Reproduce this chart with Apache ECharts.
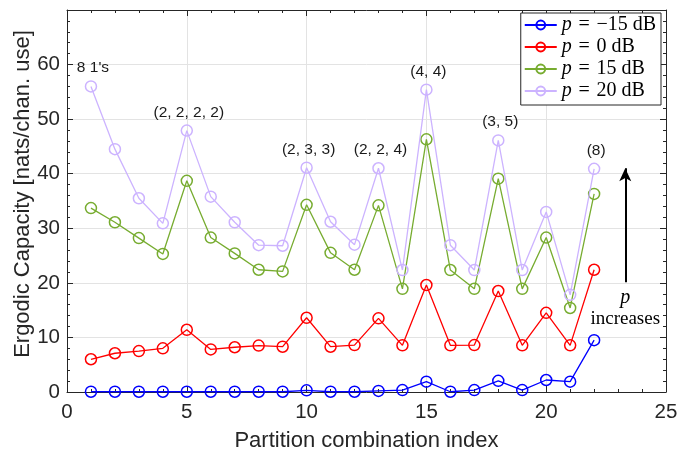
<!DOCTYPE html>
<html>
<head>
<meta charset="utf-8">
<script src="https://cdn.jsdelivr.net/npm/echarts@6/dist/echarts.min.js"></script>
<style>
html, body { margin: 0; padding: 0; background: #fff; }
#chart { width: 688px; height: 452px; }
</style>
</head>
<body>
<div id="chart"></div>
<script>
// partition combination index
var combIndex = [1, 2, 3, 4, 5, 6, 7, 8, 9, 10, 11, 12, 13, 14, 15, 16, 17, 18, 19, 20, 21, 22];

// ergodic capacity per transmit power
var capM15 = [0.05, 0.05, 0.05, 0.05, 0.05, 0.05, 0.05, 0.05, 0.05, 0.3, 0.05, 0.05, 0.2, 0.35, 1.9, 0.05, 0.35, 2.05, 0.35, 2.2, 1.9, 9.5];
var cap0 = [6.0, 7.1, 7.5, 8.0, 11.4, 7.8, 8.2, 8.5, 8.3, 13.6, 8.3, 8.6, 13.5, 8.55, 19.6, 8.55, 8.6, 18.5, 8.55, 14.5, 8.55, 22.4];
var cap15 = [33.7, 31.1, 28.2, 25.3, 38.7, 28.3, 25.4, 22.4, 22.1, 34.3, 25.5, 22.4, 34.2, 18.9, 46.3, 22.35, 18.9, 39.1, 18.9, 28.3, 15.4, 36.3];
var cap20 = [56.0, 44.5, 35.5, 30.9, 47.9, 35.8, 31.1, 26.9, 26.8, 41.1, 31.2, 27.0, 41.0, 22.35, 55.4, 26.9, 22.35, 46.1, 22.35, 33.0, 17.8, 40.9];

var seriesNames = ['p = \u221215 dB', 'p = 0 dB', 'p = 15 dB', 'p = 20 dB'];
var seriesColors = ['#0000ff', '#ff0000', '#77ac30', '#ccb3ff'];

// partition labels shown above the p = 20 dB peaks
var noteIndex = [1, 5, 10, 13, 15, 18, 22];
var noteText = ["8 1's", '(2, 2, 2, 2)', '(2, 3, 3)', '(2, 2, 4)', '(4, 4)', '(3, 5)', '(8)'];

var yTicks = [0, 10, 20, 30, 40, 50, 60];

var axisColor = '#262626';
var sans = 'Liberation Sans';
var serif = 'Liberation Serif';

function pairs(values, withNotes)
{
    return combIndex.map(function (x, i)
    {
        var k = withNotes ? noteIndex.indexOf(x) : -1;
        if (k < 0) {
            return [x, values[i]];
        }
        return {
            value: [x, values[i]],
            label: {
                show: true,
                position: 'top',
                distance: 4,
                offset: [2, 0],
                formatter: noteText[k],
                fontFamily: sans,
                fontSize: 15.5,
                color: '#1a1a1a'
            }
        };
    });
}

function lineSeries(idx, values, withNotes)
{
    var c = seriesColors[idx];
    return {
        name: seriesNames[idx],
        type: 'line',
        data: pairs(values, withNotes),
        symbol: 'circle',
        symbolSize: 11,
        showSymbol: true,
        itemStyle: { color: 'rgba(0,0,0,0)', borderColor: c, borderWidth: 1.5 },
        lineStyle: { color: c, width: 1.3 },
        emphasis: { disabled: true },
        z: 2 + idx
    };
}

var chart = echarts.init(document.getElementById('chart'));

var tickStyle = { show: true, inside: true, length: 6, lineStyle: { color: axisColor, width: 1 } };
var minorStyle = { show: true, splitNumber: 5, length: 3, lineStyle: { color: axisColor, width: 1 } };

var purple = lineSeries(3, cap20, true);
purple.markLine = {
    silent: true,
    animation: false,
    symbol: ['none', 'arrow'],
    symbolSize: [9, 13],
    lineStyle: { color: '#000', width: 2, type: 'solid' },
    label: {
        show: true,
        position: 'start',
        distance: 5,
        formatter: '{i|p}\n{r|increases}',
        rich: {
            i: { fontFamily: serif, fontStyle: 'italic', fontSize: 20, lineHeight: 21, color: '#000', align: 'center' },
            r: { fontFamily: serif, fontSize: 19, lineHeight: 22, color: '#000', align: 'center' }
        }
    },
    data: [[{ coord: [23.3, 20.1] }, { coord: [23.3, 41.0] }]]
};

var option = {
    animation: false,
    grid: { left: 67, right: 22, top: 10, bottom: 60, containLabel: false, outerBoundsMode: 'none' },
    legend: {
        orient: 'vertical',
        right: 27,
        top: 13,
        itemWidth: 32,
        itemHeight: 11,
        itemGap: 2,
        padding: [2, 5, 4, 3],
        borderColor: axisColor,
        borderWidth: 1,
        backgroundColor: '#fff',
        data: seriesNames,
        formatter: function (name)
        {
            return name.replace(/^p = /, '{i|p}\u2004=\u2004');
        },
        textStyle: {
            fontFamily: serif,
            fontSize: 20,
            lineHeight: 20,
            color: '#000',
            rich: {
                i: { fontFamily: serif, fontStyle: 'italic', fontSize: 20, lineHeight: 20, color: '#000' }
            }
        }
    },
    graphic: [{
        type: 'text',
        x: 23,
        y: 194,
        rotation: Math.PI / 2,
        silent: true,
        style: {
            text: 'Ergodic Capacity [nats/chan. use]',
            fontFamily: sans,
            fontSize: 22,
            fill: axisColor,
            align: 'center',
            verticalAlign: 'middle'
        }
    }],
    xAxis: [{
        type: 'value',
        min: 0,
        max: 25,
        interval: 5,
        name: 'Partition combination index',
        nameLocation: 'middle',
        nameGap: 38,
        nameTextStyle: { fontFamily: sans, fontSize: 22, color: axisColor },
        axisLine: { show: true, onZero: false, lineStyle: { color: axisColor, width: 1 } },
        axisTick: tickStyle,
        minorTick: minorStyle,
        axisLabel: { fontFamily: sans, fontSize: 20.5, color: axisColor, margin: 10 },
        splitLine: { show: true, lineStyle: { color: '#e3e3e3', width: 1 } }
    }, {
        type: 'value',
        position: 'top',
        min: 0,
        max: 25,
        interval: 5,
        axisLine: { show: true, onZero: false, lineStyle: { color: axisColor, width: 1 } },
        axisTick: tickStyle,
        minorTick: minorStyle,
        axisLabel: { show: false },
        splitLine: { show: false }
    }],
    yAxis: [{
        type: 'value',
        min: 0,
        max: 70,
        interval: 10,
        axisLine: { show: true, onZero: false, lineStyle: { color: axisColor, width: 1 } },
        axisTick: tickStyle,
        minorTick: minorStyle,
        axisLabel: {
            fontFamily: sans,
            fontSize: 20.5,
            color: axisColor,
            margin: 7,
            formatter: function (v)
            {
                return yTicks.indexOf(v) >= 0 ? String(v) : '';
            }
        },
        splitLine: { show: true, lineStyle: { color: '#e3e3e3', width: 1 } }
    }, {
        type: 'value',
        position: 'right',
        min: 0,
        max: 70,
        interval: 10,
        axisLine: { show: true, onZero: false, lineStyle: { color: axisColor, width: 1 } },
        axisTick: tickStyle,
        minorTick: minorStyle,
        axisLabel: { show: false },
        splitLine: { show: false }
    }],
    series: [
        lineSeries(0, capM15, false),
        lineSeries(1, cap0, false),
        lineSeries(2, cap15, false),
        purple
    ]
};

chart.setOption(option);
</script>
</body>
</html>
